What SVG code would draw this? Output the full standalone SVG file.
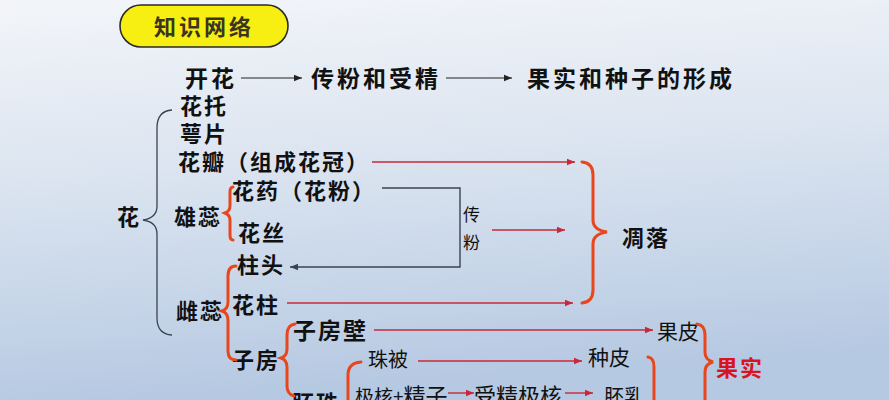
<svg xmlns="http://www.w3.org/2000/svg" width="889" height="400" viewBox="0 0 889 400">
<defs>
<linearGradient id="bg" x1="0" y1="0" x2="0.15" y2="1">
<stop offset="0" stop-color="#f3f5f9"/>
<stop offset="0.5" stop-color="#d8e2ef"/>
<stop offset="1" stop-color="#b6c9e2"/>
</linearGradient>
<marker id="ab" markerUnits="userSpaceOnUse" markerWidth="9" markerHeight="8" refX="8" refY="4" orient="auto"><path d="M0,0.8 L8,4 L0,7.2 Z" fill="#222"/></marker>
<marker id="ar" markerUnits="userSpaceOnUse" markerWidth="9" markerHeight="8" refX="8" refY="4" orient="auto"><path d="M0,0.8 L8,4 L0,7.2 Z" fill="#c8283a"/></marker>
<marker id="ag" markerUnits="userSpaceOnUse" markerWidth="9" markerHeight="8" refX="8" refY="4" orient="auto"><path d="M0,0.8 L8,4 L0,7.2 Z" fill="#3c4350"/></marker>
<style>
text{font-family:"Noto Sans CJK SC","Noto Sans",sans-serif;fill:#111}
.b{font-weight:bold;font-size:22px;letter-spacing:2px}
.t{font-weight:bold;font-size:23px;letter-spacing:3px}
.r{font-weight:normal;font-size:21px}
.s{font-weight:normal;font-size:17px}
.red{fill:#d8141e}
.ln{fill:none;stroke:#c8283a;stroke-width:1.4}
.lk{fill:none;stroke:#222;stroke-width:1.2}
.lg{fill:none;stroke:#3c4350;stroke-width:1.4}
.br{fill:none;stroke:#e8461c;stroke-width:3;stroke-linecap:round}
.bg{fill:none;stroke:#3c4350;stroke-width:1.3}
</style>
</defs>
<rect width="889" height="400" fill="url(#bg)"/>
<g id="title">
<rect x="120" y="5" width="168" height="42" rx="21" fill="#f7ee12" stroke="#2a2a2a" stroke-width="1.6"/>
<text x="204" y="35" text-anchor="middle" style="font-weight:bold;font-size:22px;letter-spacing:3px;fill:#3a3520">知识网络</text>
</g>
<g id="top-row">
<text class="t" x="185" y="87">开花</text>
<text class="t" x="311" y="87">传粉和受精</text>
<text class="t" x="527" y="87">果实和种子的形成</text>
</g>
<g id="hua"><text class="b" x="117" y="225">花</text></g>
<g id="huatuo"><text class="b" x="180" y="114">花托</text></g>
<g id="epian"><text class="b" x="180" y="142">萼片</text></g>
<g id="huaban"><text class="b" x="178" y="170">花瓣（组成花冠）</text></g>
<g id="xiongrui"><text class="b" x="174" y="225">雄蕊</text></g>
<g id="huayao"><text class="b" x="232" y="199">花药（花粉）</text></g>
<g id="huasi"><text class="b" x="238" y="241">花丝</text></g>
<g id="zhutou"><text class="b" x="237" y="273">柱头</text></g>
<g id="cirui"><text class="b" x="176" y="319">雌蕊</text></g>
<g id="huazhu"><text class="b" x="232" y="313">花柱</text></g>
<g id="zifangbi"><text class="t" x="293" y="339" style="letter-spacing:2px">子房壁</text></g>
<g id="zifang"><text class="b" x="232" y="368">子房</text></g>
<g id="zhubei"><text class="r" x="368" y="367" style="font-size:20px">珠被</text></g>
<g id="zhongpi"><text class="r" x="588" y="365">种皮</text></g>
<g id="guopi"><text class="r" x="657" y="339">果皮</text></g>
<g id="guoshi"><text class="b red" x="716" y="376">果实</text></g>
<g id="diaoluo"><text class="b" x="622" y="246">凋落</text></g>
<g id="chuanfen"><text class="s" x="463" y="221">传</text><text class="s" x="463" y="249">粉</text></g>
<g id="peizhu"><text class="b" x="292" y="411">胚珠</text></g>
<g id="jihe"><text class="r" x="355" y="404" style="font-size:19px">极核+<tspan style="font-size:22px">精子</tspan></text></g>
<g id="shoujingjihe"><text class="r" x="474" y="404" style="font-size:22px">受精极核</text></g>
<g id="peiru"><text class="r" x="604" y="404" style="font-size:20px">胚乳</text></g>
<g id="brackets">
<path class="bg" d="M172,110 Q157,111 157,128 L157,206 Q157,218 143,220 Q157,222 157,234 L157,318 Q157,334 172,335"/>
<path class="br" d="M233,187 Q230,187 230,192 L230,206 Q230,211 225,213 Q230,215 230,220 L230,235 Q230,240 233,240"/>
<path class="br" d="M236,266 Q228,266 228,276 L228,302 Q228,309 222,311 Q228,313 228,320 L228,351 Q228,360 236,360"/>
<path class="br" d="M295,324 Q287,325 287,335 L287,349 Q287,356 281,358 Q287,360 287,367 L287,386 Q287,394 294,396"/>
<path class="br" d="M361,362 Q348,363 348,375 L348,410"/>
<path class="br" d="M582,162 Q593,163 593,175 L593,220 Q593,230 607,232 Q593,234 593,244 L593,290 Q593,302 582,303"/>
<path class="br" d="M697,324 Q705,325 705,335 L705,352 Q705,360 713,362 Q705,364 705,372 L705,410"/>
<path class="br" d="M648,357 Q654,358 654,367 L654,410"/>
</g>
<g id="connectors">
<line class="lk" x1="241" y1="78" x2="302" y2="78" marker-end="url(#ab)"/>
<line class="lk" x1="446" y1="78" x2="512" y2="78" marker-end="url(#ab)"/>
<line class="ln" x1="372" y1="162" x2="575" y2="162" marker-end="url(#ar)"/>
<path class="lg" d="M382,188 H460 V267 H290" marker-end="url(#ag)"/>
<line class="ln" x1="492" y1="230" x2="565" y2="230" marker-end="url(#ar)"/>
<line class="ln" x1="287" y1="303" x2="573" y2="303" marker-end="url(#ar)"/>
<line class="ln" x1="374" y1="330" x2="653" y2="330" marker-end="url(#ar)"/>
<line class="ln" x1="418" y1="361" x2="582" y2="361" marker-end="url(#ar)"/>
<line class="ln" x1="448" y1="393" x2="474" y2="393" marker-end="url(#ar)"/>
<line class="ln" x1="565" y1="393" x2="593" y2="393" marker-end="url(#ar)"/>
</g>
</svg>
